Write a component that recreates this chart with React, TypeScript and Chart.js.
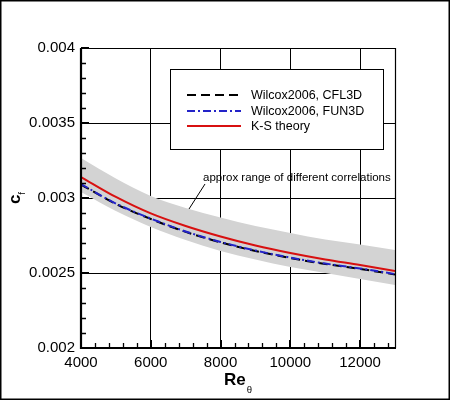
import React, { useEffect, useRef } from 'react';
import { Chart, registerables } from 'chart.js';

Chart.register(...registerables);

// Re_theta sample positions and c_f values
const reTheta = [4000, 5000, 6000, 7000, 8000, 9000, 10000, 11000, 12000, 13000];
const ksTheory = [0.00314, 0.003007, 0.002897, 0.002813, 0.002743, 0.002683, 0.002633, 0.00259, 0.002553, 0.002513];
const wilcoxFun3d = [0.003093, 0.002963, 0.002863, 0.002777, 0.002707, 0.00265, 0.002603, 0.002563, 0.00253, 0.002493];
const wilcoxCfl3d = [0.00309, 0.00296, 0.00286, 0.002774, 0.002704, 0.002647, 0.0026, 0.00256, 0.002527, 0.00249];
const rangeUpper = [0.003267, 0.00313, 0.003013, 0.002933, 0.00287, 0.002813, 0.002767, 0.002723, 0.00269, 0.002653];
const rangeLower = [0.00304, 0.002913, 0.002807, 0.00272, 0.002647, 0.00259, 0.00254, 0.0025, 0.00246, 0.00242];

const xTicks = [4000, 6000, 8000, 10000, 12000];
const yTicks = [0.002, 0.0025, 0.003, 0.0035, 0.004];
const xMinorTicks = [4400, 4800, 5200, 5600, 6400, 6800, 7200, 7600, 8400, 8800, 9200, 9600, 10400, 10800, 11200, 11600, 12400, 12800];
const yMinorTicks = [0.0021, 0.0022, 0.0023, 0.0024, 0.0026, 0.0027, 0.0028, 0.0029, 0.0031, 0.0032, 0.0033, 0.0034, 0.0036, 0.0037, 0.0038, 0.0039];

const legendLabels = ['Wilcox2006, CFL3D', 'Wilcox2006, FUN3D', 'K-S theory'];
const rangeNote = 'approx range of different correlations';

const RED = '#d81010';
const BLUE = '#2323c8';
const GRAY = '#d3d3d3';
const FONT = '"Liberation Sans", Arial, sans-serif';

const toPoints = (ys: number[]) => reTheta.map((x, i) => ({ x, y: ys[i] }));

const decorPlugin = {
  id: 'decor',
  beforeDraw(chart: any) {
    const { ctx, width, height } = chart;
    ctx.save();
    ctx.fillStyle = '#fff';
    ctx.fillRect(0, 0, width, height);
    ctx.restore();
  },
  afterDatasetsDraw(chart: any) {
    const { ctx, chartArea: ca } = chart;
    const xs = chart.scales.x;
    const ys = chart.scales.y;
    ctx.save();

    // plot frame
    ctx.strokeStyle = '#000';
    ctx.lineWidth = 1.2;
    ctx.beginPath();
    ctx.moveTo(ca.left, ca.top + 0.5);
    ctx.lineTo(ca.right + 0.5, ca.top + 0.5);
    ctx.lineTo(ca.right + 0.5, ca.bottom);
    ctx.stroke();
    ctx.lineWidth = 2.2;
    ctx.beginPath();
    ctx.moveTo(ca.left, ca.top);
    ctx.lineTo(ca.left, ca.bottom);
    ctx.lineTo(ca.right + 1, ca.bottom);
    ctx.stroke();

    // inward ticks
    ctx.lineWidth = 2;
    ctx.beginPath();
    xTicks.forEach((v) => {
      const px = Math.round(xs.getPixelForValue(v));
      ctx.moveTo(px, ca.bottom);
      ctx.lineTo(px, ca.bottom - 8);
    });
    yTicks.forEach((v) => {
      const py = Math.round(ys.getPixelForValue(v));
      ctx.moveTo(ca.left, py);
      ctx.lineTo(ca.left + 8, py);
    });
    ctx.stroke();
    ctx.lineWidth = 1.3;
    ctx.beginPath();
    xMinorTicks.forEach((v) => {
      const px = Math.round(xs.getPixelForValue(v)) + 0.5;
      ctx.moveTo(px, ca.bottom);
      ctx.lineTo(px, ca.bottom - 5);
    });
    yMinorTicks.forEach((v) => {
      const py = Math.round(ys.getPixelForValue(v)) + 0.5;
      ctx.moveTo(ca.left, py);
      ctx.lineTo(ca.left + 5, py);
    });
    ctx.stroke();

    // legend box
    const lx = ca.left + 89;
    const ly = ca.top + 21;
    ctx.fillStyle = '#fff';
    ctx.fillRect(lx, ly, 213, 80);
    ctx.lineWidth = 1;
    ctx.strokeStyle = '#000';
    ctx.strokeRect(lx + 0.5, ly + 0.5, 213, 80);
    const rows = [
      { color: '#000', dash: [9, 5] },
      { color: BLUE, dash: [8, 3, 2, 3] },
      { color: RED, dash: [] as number[] },
    ];
    const rowY = [ly + 26, ly + 42, ly + 57];
    rows.forEach((r, i) => {
      ctx.strokeStyle = r.color;
      ctx.lineWidth = 2;
      ctx.setLineDash(r.dash);
      ctx.beginPath();
      ctx.moveTo(lx + 17, rowY[i]);
      ctx.lineTo(lx + 71, rowY[i]);
      ctx.stroke();
      ctx.setLineDash([]);
      ctx.fillStyle = '#000';
      ctx.font = `12.5px ${FONT}`;
      ctx.textBaseline = 'middle';
      ctx.textAlign = 'left';
      ctx.fillText(legendLabels[i], lx + 81, rowY[i] + 1);
    });

    // range note with leader line
    ctx.fillStyle = '#000';
    ctx.font = `11.5px ${FONT}`;
    ctx.textBaseline = 'middle';
    ctx.fillText(rangeNote, ca.left + 122, ca.top + 130);
    ctx.strokeStyle = '#000';
    ctx.lineWidth = 1;
    ctx.beginPath();
    ctx.moveTo(ca.left + 124, ca.top + 136);
    ctx.lineTo(ca.left + 108, ca.top + 161);
    ctx.stroke();

    // axis titles
    const midX = (ca.left + ca.right) / 2;
    ctx.textBaseline = 'alphabetic';
    ctx.font = `bold 17px ${FONT}`;
    const reW = ctx.measureText('Re').width;
    ctx.font = `9.5px ${FONT}`;
    const thW = ctx.measureText('θ').width;
    const startX = midX - (reW + thW + 1) / 2;
    ctx.font = `bold 17px ${FONT}`;
    ctx.fillText('Re', startX, ca.bottom + 37);
    ctx.font = `9.5px ${FONT}`;
    ctx.fillText('θ', startX + reW + 1, ca.bottom + 45);

    ctx.save();
    ctx.translate(20, (ca.top + ca.bottom) / 2 + 6);
    ctx.rotate(-Math.PI / 2);
    ctx.font = `bold 17px ${FONT}`;
    ctx.fillText('c', 0, 0);
    const cW = ctx.measureText('c').width;
    ctx.font = `9px ${FONT}`;
    ctx.fillText('f', cW, 5);
    ctx.restore();

    // outer frame
    ctx.strokeStyle = '#000';
    ctx.lineWidth = 1.5;
    ctx.strokeRect(0.75, 0.75, chart.width - 1.5, chart.height - 2.5);
    ctx.restore();
  },
};

export default function App() {
  const canvasRef = useRef<HTMLCanvasElement>(null);

  useEffect(() => {
    if (!canvasRef.current) return;
    const chart = new Chart(canvasRef.current, {
      type: 'line',
      data: {
        datasets: [
          {
            label: 'range upper',
            data: toPoints(rangeUpper),
            borderWidth: 0,
            pointRadius: 0,
            fill: false,
            order: 10,
            cubicInterpolationMode: 'monotone',
          },
          {
            label: 'range lower',
            data: toPoints(rangeLower),
            borderWidth: 0,
            pointRadius: 0,
            backgroundColor: GRAY,
            fill: '-1',
            order: 9,
            cubicInterpolationMode: 'monotone',
          },
          {
            label: legendLabels[0],
            data: toPoints(wilcoxCfl3d),
            borderColor: '#000',
            borderWidth: 2,
            borderDash: [9, 5],
            pointRadius: 0,
            fill: false,
            order: 3,
            cubicInterpolationMode: 'monotone',
          },
          {
            label: legendLabels[1],
            data: toPoints(wilcoxFun3d),
            borderColor: BLUE,
            borderWidth: 2,
            borderDash: [8, 3, 2, 3],
            pointRadius: 0,
            fill: false,
            order: 2,
            cubicInterpolationMode: 'monotone',
          },
          {
            label: legendLabels[2],
            data: toPoints(ksTheory),
            borderColor: RED,
            borderWidth: 2,
            pointRadius: 0,
            fill: false,
            order: 1,
            cubicInterpolationMode: 'monotone',
          },
        ],
      },
      options: {
        animation: false,
        responsive: false,
        devicePixelRatio: 1,
        events: [],
        layout: { padding: { left: 0, top: 48, right: 55, bottom: 0 } },
        plugins: { legend: { display: false }, tooltip: { enabled: false } },
        scales: {
          x: {
            type: 'linear',
            min: 4000,
            max: 13000,
            afterBuildTicks: (s: any) => {
              s.ticks = xTicks.map((value) => ({ value }));
            },
            afterFit: (s: any) => {
              s.height = 53;
            },
            ticks: {
              color: '#000',
              padding: 6,
              font: { family: FONT, size: 15 },
              callback: (v: any) => String(v),
            },
            grid: { color: '#000', lineWidth: 1, drawTicks: false },
            border: { display: false },
          },
          y: {
            type: 'linear',
            min: 0.002,
            max: 0.004,
            afterBuildTicks: (s: any) => {
              s.ticks = yTicks.map((value) => ({ value }));
            },
            afterFit: (s: any) => {
              s.width = 81;
            },
            ticks: {
              color: '#000',
              padding: 6,
              font: { family: FONT, size: 15 },
              callback: (v: any) => String(v),
            },
            grid: { color: '#000', lineWidth: 1, drawTicks: false },
            border: { display: false },
          },
        },
      },
      plugins: [decorPlugin],
    });
    return () => chart.destroy();
  }, []);

  return (
    <div style={{ position: 'absolute', left: 0, top: 0, width: 450, height: 401 }}>
      <canvas ref={canvasRef} width={450} height={401} style={{ display: 'block' }} />
    </div>
  );
}
